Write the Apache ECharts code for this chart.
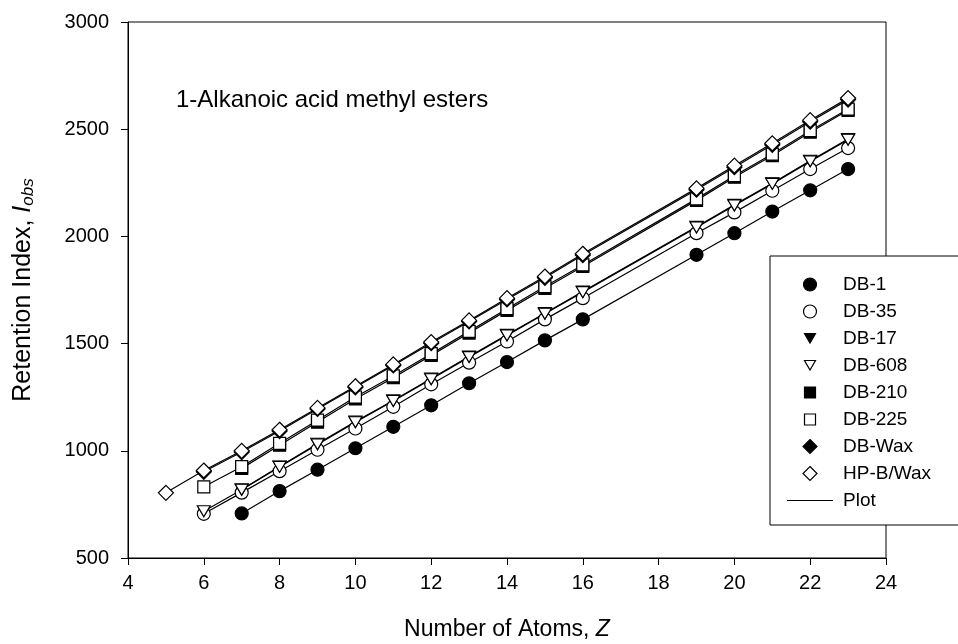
<!DOCTYPE html>
<html>
<head>
<meta charset="utf-8">
<script src="https://cdn.jsdelivr.net/npm/echarts@6/dist/echarts.min.js"></script>
<style>
  html, body { margin: 0; padding: 0; background: #fff; }
  #chart { width: 958px; height: 644px; }
</style>
</head>
<body>
<div id="chart"></div>
<script>
  // number of atoms Z for each column
  const zHpbWax = [5, 6, 7, 8, 9, 10, 11, 12, 13, 14, 15, 16, 19, 20, 21, 22, 23];
  const zFrom6 = [6, 7, 8, 9, 10, 11, 12, 13, 14, 15, 16, 19, 20, 21, 22, 23];
  const zFrom7 = [7, 8, 9, 10, 11, 12, 13, 14, 15, 16, 19, 20, 21, 22, 23];

  // retention index values
  const db1 = [708, 812, 912, 1012, 1112, 1212, 1315, 1414, 1515, 1613, 1914, 2015, 2116, 2215, 2314];
  const db35 = [706, 805, 905, 1005, 1104, 1205, 1310, 1411, 1510, 1613, 1712, 2015, 2112, 2213, 2314, 2412];
  const db17 = [820, 927, 1033, 1136, 1235, 1337, 1440, 1541, 1642, 1743, 2045, 2147, 2248, 2353, 2454];
  const db608 = [718, 818, 925, 1030, 1133, 1232, 1334, 1437, 1538, 1639, 1740, 2042, 2144, 2245, 2350, 2451];
  const db210 = [918, 1026, 1134, 1242, 1341, 1445, 1549, 1655, 1758, 1860, 2168, 2276, 2377, 2486, 2588];
  const db225 = [832, 926, 1035, 1143, 1251, 1349, 1453, 1557, 1663, 1766, 1867, 2175, 2283, 2384, 2493, 2594];
  const dbWax = [902, 994, 1092, 1195, 1296, 1398, 1502, 1603, 1706, 1807, 1913, 2218, 2323, 2427, 2535, 2638];
  const hpbWax = [804, 908, 1000, 1098, 1200, 1301, 1403, 1507, 1608, 1712, 1813, 1919, 2224, 2330, 2434, 2542, 2645];

  const FONT = "'Liberation Sans', Arial, sans-serif";
  const downTri = 'path://M0,0L12,0L6,10.4Z';
  // legend icons padded to a 14x14 box so they keep their size
  const legendTri = 'path://M0,0L0,0M1.5,2L12.5,2L7,11.5ZM14,14L14,14';
  const legendRect = 'path://M0,0L0,0M1.5,1.5L12.5,1.5L12.5,12.5L1.5,12.5ZM14,14L14,14';
  const legendDiamond = 'path://M7,0L14,7L7,14L0,7Z';
  const legendCircle = 'path://M0,0L0,0M7,0.5A6.5,6.5,0,1,1,6.99,0.5ZM14,14L14,14';

  function pairs(zs, vs) {
    return zs.map((z, i) => [z, vs[i]]);
  }

  function mkSeries(name, zs, vs, symbol, size, fill) {
    return {
      name: name,
      type: 'line',
      data: pairs(zs, vs),
      symbol: symbol,
      symbolSize: size,
      showAllSymbol: true,
      lineStyle: { color: '#000', width: 1.2 },
      itemStyle: { color: fill, borderColor: '#000', borderWidth: 1.2 },
      emphasis: { disabled: true },
      z: 3
    };
  }

  const chart = echarts.init(document.getElementById('chart'));
  chart.setOption({
    animation: false,
    backgroundColor: '#fff',
    grid: {
      left: 128, top: 22, right: 72, bottom: 86,
      outerBoundsMode: 'none',
      show: true, borderColor: '#000', borderWidth: 1
    },
    graphic: [{
      type: 'text',
      left: 176, top: 88,
      style: { text: '1-Alkanoic acid methyl esters', font: '24px ' + FONT, fill: '#000' }
    }],
    xAxis: {
      type: 'value', min: 4, max: 24, interval: 2,
      name: 'Number of Atoms, {i|Z}',
      nameLocation: 'middle', nameGap: 60,
      nameTextStyle: {
        fontFamily: FONT, fontSize: 23, color: '#000',
        rich: { i: { fontFamily: FONT, fontSize: 23, fontStyle: 'italic', color: '#000' } }
      },
      axisLine: { lineStyle: { color: '#000', width: 1 } },
      axisTick: { length: 7, lineStyle: { color: '#000' } },
      axisLabel: { fontFamily: FONT, fontSize: 20, color: '#000', margin: 15 },
      splitLine: { show: false }
    },
    yAxis: {
      type: 'value', min: 500, max: 3000, interval: 500,
      name: 'Retention Index, {i|I}{s|obs}',
      nameLocation: 'middle', nameGap: 91,
      nameTextStyle: {
        fontFamily: FONT, fontSize: 25, color: '#000',
        rich: {
          i: { fontFamily: FONT, fontSize: 25, fontStyle: 'italic', color: '#000' },
          s: { fontFamily: FONT, fontSize: 17, fontStyle: 'italic', color: '#000', verticalAlign: 'bottom', padding: [10, 0, 0, 0] }
        }
      },
      axisLine: { show: true, lineStyle: { color: '#000', width: 1 } },
      axisTick: { show: true, length: 7, lineStyle: { color: '#000' } },
      axisLabel: { fontFamily: FONT, fontSize: 20, color: '#000', margin: 19, formatter: v => String(v) },
      splitLine: { show: false }
    },
    legend: {
      orient: 'vertical',
      left: 770, top: 256,
      padding: [19, 120, 15, 12],
      backgroundColor: '#fff',
      borderColor: '#000', borderWidth: 1,
      itemWidth: 56, itemHeight: 14, itemGap: 8,
      symbolKeepAspect: true,
      selectedMode: false,
      itemStyle: { borderWidth: 1.2 },
      textStyle: { fontFamily: FONT, fontSize: 19, lineHeight: 19, color: '#000' },
      data: [
        { name: 'DB-1', icon: legendCircle },
        { name: 'DB-35', icon: legendCircle },
        { name: 'DB-17', icon: legendTri },
        { name: 'DB-608', icon: legendTri },
        { name: 'DB-210', icon: legendRect },
        { name: 'DB-225', icon: legendRect },
        { name: 'DB-Wax', icon: legendDiamond },
        { name: 'HP-B/Wax', icon: legendDiamond },
        { name: 'Plot', icon: 'path://M-5,0.6L-5,0.6M0,0L46,0L46,1.2L0,1.2ZM51,0.6L51,0.6' }
      ],
      z: 10
    },
    series: [
      mkSeries('DB-1', zFrom7, db1, 'circle', 13, '#000'),
      mkSeries('DB-35', zFrom6, db35, 'circle', 13, '#fff'),
      mkSeries('DB-17', zFrom7, db17, downTri, [13, 11], '#000'),
      mkSeries('DB-608', zFrom6, db608, downTri, [13, 11], '#fff'),
      mkSeries('DB-210', zFrom7, db210, 'rect', 12, '#000'),
      mkSeries('DB-225', zFrom6, db225, 'rect', 12, '#fff'),
      mkSeries('DB-Wax', zFrom6, dbWax, 'diamond', 15, '#000'),
      mkSeries('HP-B/Wax', zHpbWax, hpbWax, 'diamond', 15, '#fff'),
      {
        name: 'Plot', type: 'line', data: [],
        lineStyle: { color: '#000', width: 1 },
        itemStyle: { color: '#000', borderWidth: 0 }
      }
    ]
  });
</script>
</body>
</html>
